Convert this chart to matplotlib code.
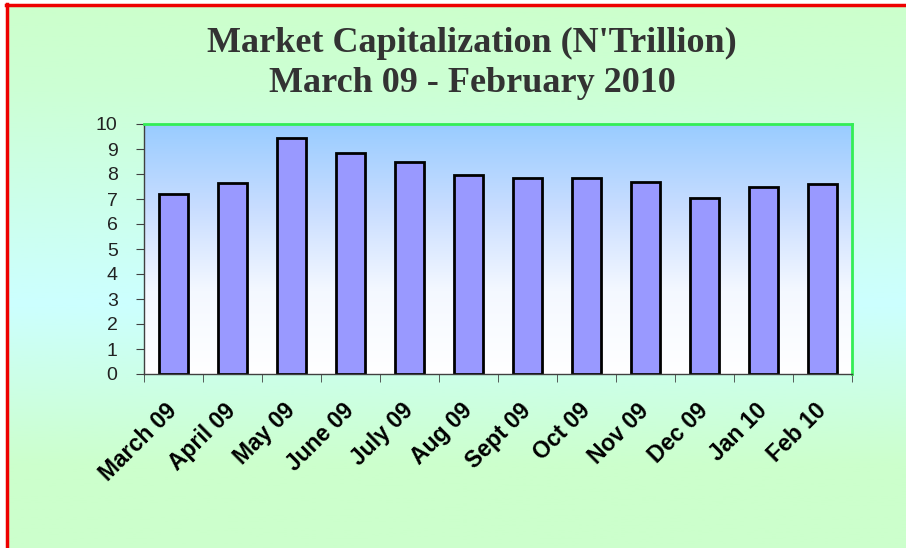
import numpy as np
import matplotlib
matplotlib.use("Agg")
import matplotlib.pyplot as plt
from matplotlib.colors import LinearSegmentedColormap
from matplotlib.lines import Line2D

months = ["March 09", "April 09", "May 09", "June 09", "July 09", "Aug 09",
          "Sept 09", "Oct 09", "Nov 09", "Dec 09", "Jan 10", "Feb 10"]
market_cap = [7.2, 7.65, 9.45, 8.85, 8.5, 7.95, 7.85, 7.85, 7.7, 7.05, 7.5, 7.6]
title_lines = ["Market Capitalization (N'Trillion)", "March 09 - February 2010"]
y_ticks = list(range(0, 11))

W, H = 906, 548
fig = plt.figure(figsize=(W / 100, H / 100), dpi=100, facecolor="white")

# figure background gradient
bg = fig.add_axes([7 / W, 0, 1 - 7 / W, 1 - 5 / H], zorder=-10)
bg_cmap = LinearSegmentedColormap.from_list(
    "bg", [(0.0, "#CCFFCC"), (0.15, "#CCFFD4"), (0.55, "#CCFFFF"), (0.85, "#CCFFCC"), (1.0, "#CCFFCC")])
bg.imshow(np.linspace(0, 1, 256).reshape(-1, 1), cmap=bg_cmap, aspect="auto",
          extent=[0, 1, 0, 1], origin="upper")
bg.set_axis_off()

# red border (top and left)
fig.add_artist(Line2D([7 / W, 7 / W], [0, 1 - 4 / H], color="#EE0000", lw=2.5,
                      transform=fig.transFigure))
fig.add_artist(Line2D([6 / W, 1], [1 - 5 / H, 1 - 5 / H], color="#EE0000", lw=2.5,
                      transform=fig.transFigure))

# titles
fig.text(0.521, 1 - 43 / H, title_lines[0], ha="center", va="center",
         fontsize=26, fontweight="bold", family="Liberation Serif", color="#333333")
fig.text(0.521, 1 - 83 / H, title_lines[1], ha="center", va="center",
         fontsize=26, fontweight="bold", family="Liberation Serif", color="#333333")

ax = fig.add_axes([144 / W, 1 - 374 / H, (852 - 144) / W, (374 - 124) / H])
x = np.arange(len(months))
ax.set_xlim(-0.5, len(months) - 0.5)
ax.set_ylim(0, 10)

plot_cmap = LinearSegmentedColormap.from_list("pb", ["#FFFFFF", "#F4F8FF", "#C8DDFF", "#99CCFF"])
ax.imshow(np.linspace(0, 1, 256).reshape(-1, 1), cmap=plot_cmap, aspect="auto",
          extent=[-0.5, len(months) - 0.5, 0, 10], origin="lower", zorder=0)

ax.bar(x, market_cap, width=0.5, color="#9999FF", edgecolor="black", linewidth=2, zorder=2)

for s in ["left", "bottom"]:
    ax.spines[s].set_color("#404040")
    ax.spines[s].set_linewidth(1)
for s in ["top", "right"]:
    ax.spines[s].set_color("#33EE55")
    ax.spines[s].set_linewidth(2)

ax.set_yticks(y_ticks)
ax.tick_params(axis="y", direction="out", length=6, color="#404040", labelsize=14,
               labelcolor="#222222", pad=13)
for t in ax.get_yticklabels():
    t.set_family("Liberation Sans")

ax.set_xticks(x)
ax.set_xticklabels(months, rotation=45, ha="right", va="center", rotation_mode="anchor",
                   fontsize=16.5, fontweight="bold", family="Liberation Sans", color="black")
ax.tick_params(axis="x", which="major", length=0, pad=24)
ax.set_xticks(np.arange(-0.5, len(months), 1), minor=True)
ax.tick_params(axis="x", which="minor", direction="out", length=6, color="#404040")

fig.savefig("out.png", dpi=100, facecolor=fig.get_facecolor())
